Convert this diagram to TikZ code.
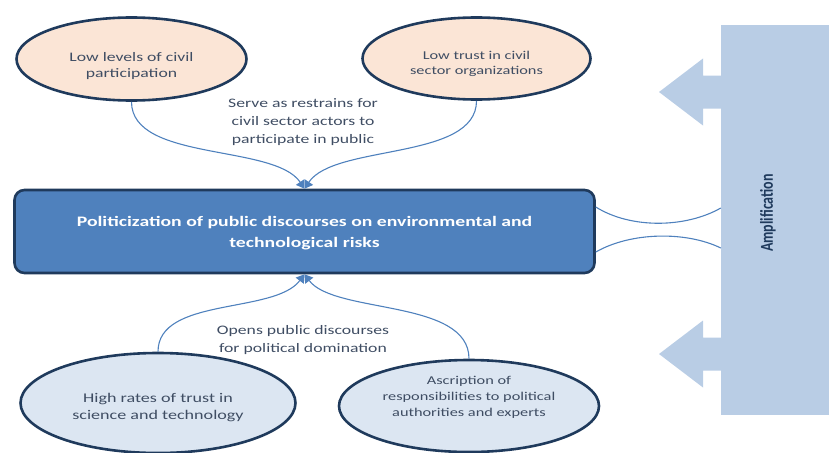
\documentclass[tikz,border=0pt]{standalone}
\usepackage{fontspec}
\setmainfont[FakeStretch=1.36]{Carlito}
\newfontfamily\uprightfont{Carlito}
\usetikzlibrary{shapes.geometric,arrows.meta}

\definecolor{peach}{HTML}{FBE5D6}
\definecolor{paleblue}{HTML}{DCE6F2}
\definecolor{midblue}{HTML}{4F81BD}
\definecolor{ampblue}{HTML}{B9CDE5}
\definecolor{navyline}{HTML}{1F3A5C}
\definecolor{slate}{HTML}{3F4D63}

\begin{document}
\begin{tikzpicture}[x=1pt,y=-1pt,
    oval/.style={ellipse,draw=navyline,line width=2.6pt,inner sep=0pt,
      text=slate,align=center},
    link/.style={draw=midblue,line width=1.1pt},
    linktip/.style={-{Triangle[length=8pt,width=10pt]}},
    say/.style={text=slate,align=center,font=\fontsize{13}{18}\selectfont}]
  \useasboundingbox (0,0) rectangle (829,452);
  % amplification block with its two arrows
  \node[fill=ampblue,minimum width=110pt,minimum height=390pt,inner sep=0pt] (amp) at (776,220) {};
  \foreach \yc in {92,354}
    \fill[ampblue] (722,\yc-16.5) -- (703,\yc-16.5) -- (703,\yc-33.5) -- (659,\yc)
      -- (703,\yc+33.5) -- (703,\yc+16.5) -- (722,\yc+16.5) -- cycle ;
  \node[rotate=90,yscale=1.3,text=navyline,font=\uprightfont\fontsize{14}{16}\selectfont\bfseries] (amptext) at (768,213) {Amplification};
  % the four causes
  \node[oval,fill=peach,minimum width=230pt,minimum height=83pt,font=\fontsize{13}{16.5}\selectfont]
    (lowpart) at (131.5,59) {\rule{0pt}{23pt}Low levels of civil\\participation};
  \node[oval,fill=peach,minimum width=228pt,minimum height=82pt,font=\fontsize{12}{15.5}\selectfont]
    (lowtrust) at (476.5,58.5) {\rule{0pt}{19pt}Low trust in civil\\sector organizations};
  \node[oval,fill=paleblue,minimum width=275pt,minimum height=100pt,font=\fontsize{13.3}{16.5}\selectfont]
    (hightrust) at (158,403) {\rule{0pt}{18pt}High rates of trust in\\science and technology};
  \node[oval,fill=paleblue,minimum width=260pt,minimum height=92pt,font=\fontsize{12}{16}\selectfont]
    (ascript) at (469,406) {Ascription of\\responsibilities to political\\authorities and experts\\[3pt]};
  % central box
  \node[draw=navyline,fill=midblue,line width=2.6pt,rounded corners=10pt,
    minimum width=580pt,minimum height=83pt,text=white,align=center,
    font=\fontsize{14.5}{21}\selectfont\bfseries] (politic) at (304.5,231.5)
    {\rule{0pt}{13pt}Politicization of public discourses on environmental and\\technological risks};
  % connectors
  \draw[link,linktip] (lowpart.south) .. controls +(0,60) and +(-30,-45) .. (politic.north) ;
  \draw[link,linktip] (lowtrust.south) .. controls +(0,60) and +(30,-45) .. (politic.north) ;
  \draw[link,linktip] (hightrust.north) .. controls +(0,-55) and +(-30,40) .. (politic.south) ;
  \draw[link,linktip] (ascript.north) .. controls +(0,-60) and +(30,40) .. (politic.south) ;
  \draw[link] ([yshift=24.5pt]politic.east) .. controls +(35,22) and +(-35,20) .. ([yshift=12pt]amp.west) ;
  \draw[link] ([yshift=-20.5pt]politic.east) .. controls +(35,-20) and +(-35,-17) .. ([yshift=-28pt]amp.west) ;
  % labels
  \node[say] (restrain) at (303,122) {Serve as restrains for\\civil sector actors to\\participate in public};
  \node[say] (opens) at (303,340) {Opens public discourses\\for political domination};
\end{tikzpicture}
\end{document}
